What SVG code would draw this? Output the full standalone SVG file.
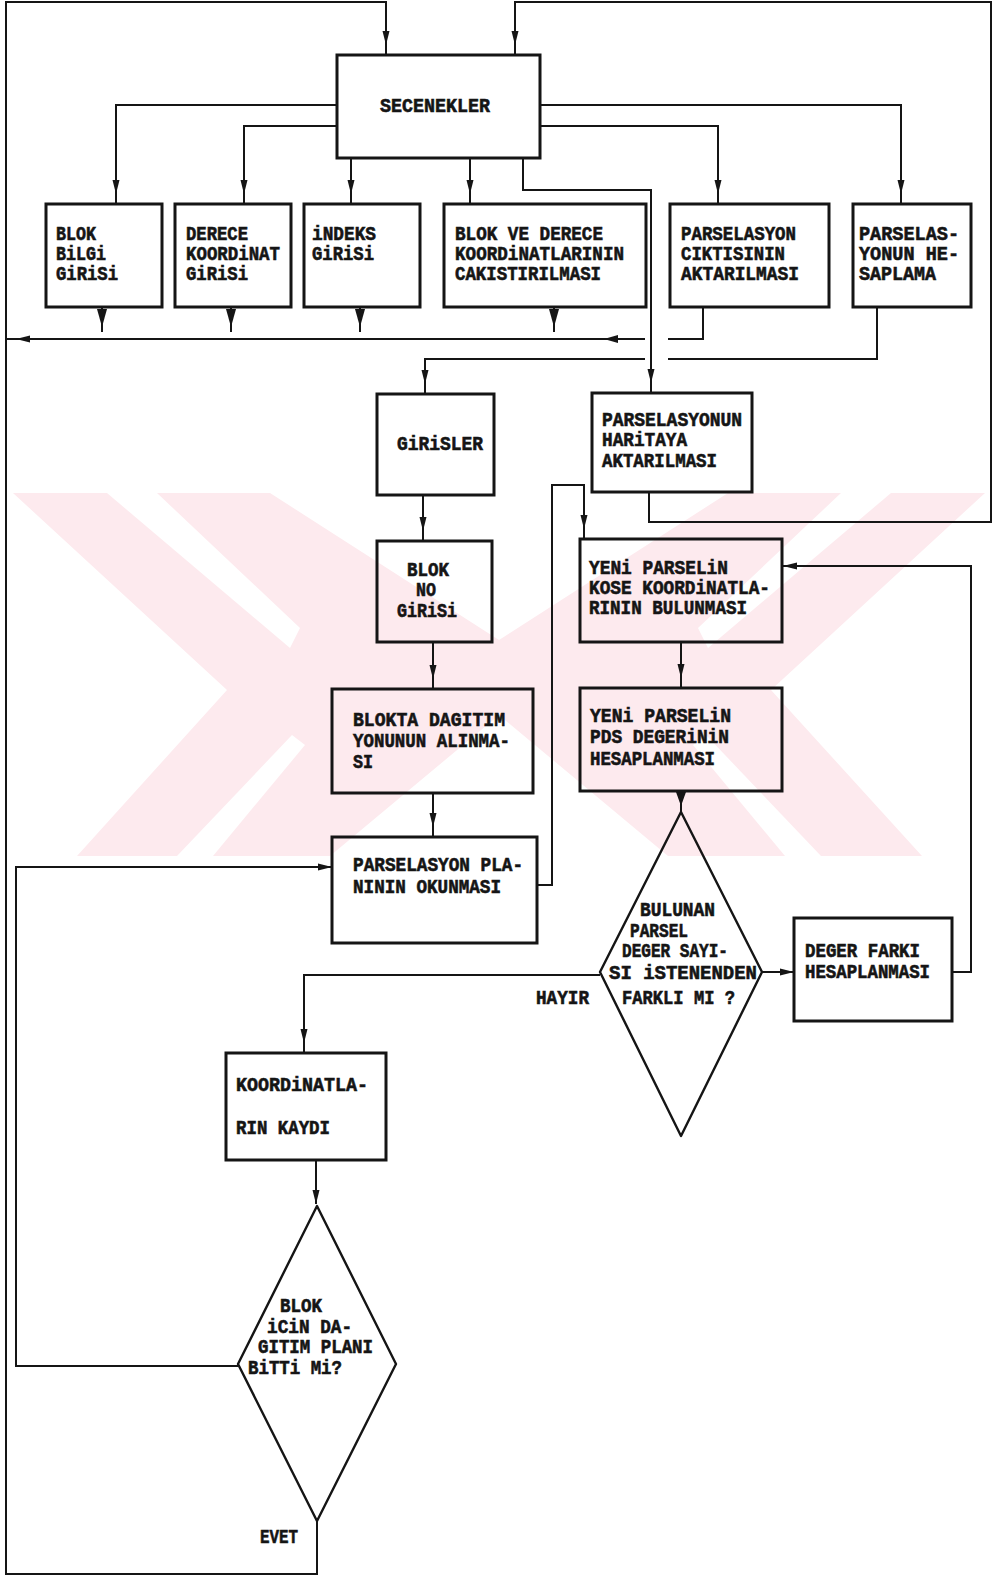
<svg xmlns="http://www.w3.org/2000/svg" width="998" height="1576" viewBox="0 0 998 1576">
<style>
.bx{fill:none;stroke:#151515;stroke-width:3}
.dm{fill:none;stroke:#151515;stroke-width:2.4;stroke-linejoin:round}
.ln{fill:none;stroke:#151515;stroke-width:2}
.t{font-family:"Liberation Mono","DejaVu Sans Mono",monospace;font-weight:bold;font-size:20px;fill:#151515;stroke:#151515;stroke-width:0.6}
.wm{fill:#fdeaee;stroke:none}
.wh{fill:#ffffff;stroke:none}
</style>
<defs>
<marker id="a" viewBox="0 0 14 8" refX="14" refY="4" markerWidth="14" markerHeight="8" markerUnits="userSpaceOnUse" orient="auto" overflow="visible"><path d="M0,0.5 L14,4 L0,7.5 Z" fill="#151515"/></marker>
<marker id="g" viewBox="0 0 24 8" refX="24" refY="4" markerWidth="24" markerHeight="8" markerUnits="userSpaceOnUse" orient="auto" overflow="visible"><path d="M0,0.5 L14,4 L0,7.5 Z" fill="#151515"/></marker>
</defs>
<rect x="0" y="0" width="998" height="1576" fill="#ffffff"/>
<g id="watermark">
<path class="wm" d="M13,493 L270,493 L499,640 L728,493 L985,493 L771,690 L922,856 L668,856 L499,715 L330,856 L77,856 L227,690 Z"/>
<path class="wh" d="M107,493 L157,493 L300,628 L290,648 Z"/>
<path class="wh" d="M177,856 L213,856 L305,745 L292,735 Z"/>
<path class="wh" d="M891,493 L841,493 L698,628 L708,648 Z"/>
<path class="wh" d="M821,856 L785,856 L693,745 L706,735 Z"/>
</g>
<g id="connectors">
<path class="ln" d="M317,1520 V1574 H6 V2 H386 V55" marker-end="url(#g)"/>
<path class="ln" d="M649,492 V522 H991 V2 H515 V55" marker-end="url(#g)"/>
<path class="ln" d="M337,105 H116 V204" marker-end="url(#g)"/>
<path class="ln" d="M337,126 H244 V204" marker-end="url(#g)"/>
<path class="ln" d="M351,158 V204" marker-end="url(#g)"/>
<path class="ln" d="M470,158 V204" marker-end="url(#g)"/>
<path class="ln" d="M523,158 V190 H651 V393" marker-end="url(#g)"/>
<path class="ln" d="M540,105 H901 V204" marker-end="url(#g)"/>
<path class="ln" d="M540,126 H718 V204" marker-end="url(#g)"/>
<path class="ln" d="M102,307 V332"/><path d="M97,309 L107,309 L102,327 Z" fill="#151515"/>
<path class="ln" d="M231,307 V332"/><path d="M226,309 L236,309 L231,327 Z" fill="#151515"/>
<path class="ln" d="M360,307 V332"/><path d="M355,309 L365,309 L360,327 Z" fill="#151515"/>
<path class="ln" d="M554,307 V332"/><path d="M549,309 L559,309 L554,327 Z" fill="#151515"/>
<path class="ln" d="M703,307 V339 H668"/>
<path class="ln" d="M645,339 H6" marker-end="url(#g)"/>
<path d="M604,339 L618,335 L618,343 Z" fill="#151515"/>
<path class="ln" d="M877,307 V359 H668"/>
<path class="ln" d="M645,359 H425 V394" marker-end="url(#g)"/>
<path class="ln" d="M423,495 V541" marker-end="url(#g)"/>
<path class="ln" d="M433,642 V689" marker-end="url(#g)"/>
<path class="ln" d="M433,793 V837" marker-end="url(#g)"/>
<path class="ln" d="M537,885 H552 V485 H584 V539" marker-end="url(#g)"/>
<path class="ln" d="M681,642 V688" marker-end="url(#g)"/>
<path class="ln" d="M681,791 V812"/><path d="M676,792 L686,792 L681,806 Z" fill="#151515"/>
<path class="ln" d="M762,972 H794" marker-end="url(#a)"/>
<path class="ln" d="M952,972 H971 V566 H783" marker-end="url(#a)"/>
<path class="ln" d="M600,975 H304 V1053" marker-end="url(#g)"/>
<path class="ln" d="M316,1160 V1204" marker-end="url(#a)"/>
<path class="ln" d="M238,1366 H16 V867 H332" marker-end="url(#a)"/>
</g>
<g id="n-secenekler"><rect class="bx" x="337" y="55" width="203" height="103"/><text class="t" x="380" y="112" textLength="110" lengthAdjust="spacingAndGlyphs">SECENEKLER</text></g>
<g id="n-blokbilgi"><rect class="bx" x="46" y="204" width="116" height="103"/>
<text class="t" x="56" y="240" textLength="40" lengthAdjust="spacingAndGlyphs">BLOK</text>
<text class="t" x="56" y="260" textLength="50" lengthAdjust="spacingAndGlyphs">BiLGi</text>
<text class="t" x="56" y="280" textLength="62" lengthAdjust="spacingAndGlyphs">GiRiSi</text></g>
<g id="n-derece"><rect class="bx" x="175" y="204" width="116" height="103"/>
<text class="t" x="186" y="240" textLength="62" lengthAdjust="spacingAndGlyphs">DERECE</text>
<text class="t" x="186" y="260" textLength="94" lengthAdjust="spacingAndGlyphs">KOORDiNAT</text>
<text class="t" x="186" y="280" textLength="62" lengthAdjust="spacingAndGlyphs">GiRiSi</text></g>
<g id="n-indeks"><rect class="bx" x="304" y="204" width="116" height="103"/>
<text class="t" x="312" y="240" textLength="64" lengthAdjust="spacingAndGlyphs">iNDEKS</text>
<text class="t" x="312" y="260" textLength="62" lengthAdjust="spacingAndGlyphs">GiRiSi</text></g>
<g id="n-cakistir"><rect class="bx" x="444" y="204" width="202" height="103"/>
<text class="t" x="455" y="240" textLength="148" lengthAdjust="spacingAndGlyphs">BLOK VE DERECE</text>
<text class="t" x="455" y="260" textLength="169" lengthAdjust="spacingAndGlyphs">KOORDiNATLARININ</text>
<text class="t" x="455" y="280" textLength="146" lengthAdjust="spacingAndGlyphs">CAKISTIRILMASI</text></g>
<g id="n-cikti"><rect class="bx" x="670" y="204" width="159" height="103"/>
<text class="t" x="681" y="240" textLength="115" lengthAdjust="spacingAndGlyphs">PARSELASYON</text>
<text class="t" x="681" y="260" textLength="104" lengthAdjust="spacingAndGlyphs">CIKTISININ</text>
<text class="t" x="681" y="280" textLength="118" lengthAdjust="spacingAndGlyphs">AKTARILMASI</text></g>
<g id="n-hesaplama"><rect class="bx" x="853" y="204" width="118" height="103"/>
<text class="t" x="859" y="240" textLength="100" lengthAdjust="spacingAndGlyphs">PARSELAS-</text>
<text class="t" x="859" y="260" textLength="100" lengthAdjust="spacingAndGlyphs">YONUN HE-</text>
<text class="t" x="859" y="280" textLength="77" lengthAdjust="spacingAndGlyphs">SAPLAMA</text></g>
<g id="n-girisler"><rect class="bx" x="377" y="394" width="117" height="101"/>
<text class="t" x="397" y="450" textLength="86" lengthAdjust="spacingAndGlyphs">GiRiSLER</text></g>
<g id="n-haritaya"><rect class="bx" x="592" y="393" width="160" height="99"/>
<text class="t" x="602" y="426" textLength="140" lengthAdjust="spacingAndGlyphs">PARSELASYONUN</text>
<text class="t" x="602" y="446" textLength="85" lengthAdjust="spacingAndGlyphs">HARiTAYA</text>
<text class="t" x="602" y="467" textLength="115" lengthAdjust="spacingAndGlyphs">AKTARILMASI</text></g>
<g id="n-blokno"><rect class="bx" x="377" y="541" width="115" height="101"/>
<text class="t" x="407" y="576" textLength="42" lengthAdjust="spacingAndGlyphs">BLOK</text>
<text class="t" x="416" y="596" textLength="20" lengthAdjust="spacingAndGlyphs">NO</text>
<text class="t" x="397" y="617" textLength="60" lengthAdjust="spacingAndGlyphs">GiRiSi</text></g>
<g id="n-kose"><rect class="bx" x="580" y="539" width="202" height="103"/>
<text class="t" x="589" y="574" textLength="139" lengthAdjust="spacingAndGlyphs">YENi PARSELiN</text>
<text class="t" x="589" y="594" textLength="181" lengthAdjust="spacingAndGlyphs">KOSE KOORDiNATLA-</text>
<text class="t" x="589" y="614" textLength="158" lengthAdjust="spacingAndGlyphs">RININ BULUNMASI</text></g>
<g id="n-blokta"><rect class="bx" x="332" y="689" width="201" height="104"/>
<text class="t" x="353" y="726" textLength="152" lengthAdjust="spacingAndGlyphs">BLOKTA DAGITIM</text>
<text class="t" x="353" y="747" textLength="157" lengthAdjust="spacingAndGlyphs">YONUNUN ALINMA-</text>
<text class="t" x="353" y="768" textLength="20" lengthAdjust="spacingAndGlyphs">SI</text></g>
<g id="n-pds"><rect class="bx" x="580" y="688" width="202" height="103"/>
<text class="t" x="590" y="722" textLength="141" lengthAdjust="spacingAndGlyphs">YENi PARSELiN</text>
<text class="t" x="590" y="743" textLength="139" lengthAdjust="spacingAndGlyphs">PDS DEGERiNiN</text>
<text class="t" x="590" y="765" textLength="125" lengthAdjust="spacingAndGlyphs">HESAPLANMASI</text></g>
<g id="n-plan"><rect class="bx" x="332" y="837" width="205" height="106"/>
<text class="t" x="353" y="871" textLength="170" lengthAdjust="spacingAndGlyphs">PARSELASYON PLA-</text>
<text class="t" x="353" y="893" textLength="148" lengthAdjust="spacingAndGlyphs">NININ OKUNMASI</text></g>
<g id="n-karar1"><path class="dm" d="M681,812 L762,972 L681,1136 L600,972 Z"/>
<text class="t" x="640" y="916" textLength="75" lengthAdjust="spacingAndGlyphs">BULUNAN</text>
<text class="t" x="630" y="937" textLength="58" lengthAdjust="spacingAndGlyphs">PARSEL</text>
<text class="t" x="622" y="957" textLength="106" lengthAdjust="spacingAndGlyphs">DEGER SAYI-</text>
<text class="t" x="609" y="979" textLength="148" lengthAdjust="spacingAndGlyphs">SI iSTENENDEN</text>
<text class="t" x="622" y="1004" textLength="113" lengthAdjust="spacingAndGlyphs">FARKLI MI ?</text></g>
<g id="n-fark"><rect class="bx" x="794" y="918" width="158" height="103"/>
<text class="t" x="805" y="957" textLength="115" lengthAdjust="spacingAndGlyphs">DEGER FARKI</text>
<text class="t" x="805" y="978" textLength="125" lengthAdjust="spacingAndGlyphs">HESAPLANMASI</text></g>
<g id="n-kayit"><rect class="bx" x="226" y="1053" width="160" height="107"/>
<text class="t" x="236" y="1091" textLength="132" lengthAdjust="spacingAndGlyphs">KOORDiNATLA-</text>
<text class="t" x="236" y="1134" textLength="94" lengthAdjust="spacingAndGlyphs">RIN KAYDI</text></g>
<g id="n-karar2"><path class="dm" d="M317,1206 L396,1364 L317,1521 L238,1364 Z"/>
<text class="t" x="280" y="1312" textLength="42" lengthAdjust="spacingAndGlyphs">BLOK</text>
<text class="t" x="267" y="1333" textLength="85" lengthAdjust="spacingAndGlyphs">iCiN DA-</text>
<text class="t" x="258" y="1353" textLength="115" lengthAdjust="spacingAndGlyphs">GITIM PLANI</text>
<text class="t" x="248" y="1374" textLength="94" lengthAdjust="spacingAndGlyphs">BiTTi Mi?</text></g>
<g id="labels">
<text class="t" x="536" y="1004" textLength="53" lengthAdjust="spacingAndGlyphs">HAYIR</text>
<text class="t" x="260" y="1543" textLength="38" lengthAdjust="spacingAndGlyphs">EVET</text>
</g>
</svg>
